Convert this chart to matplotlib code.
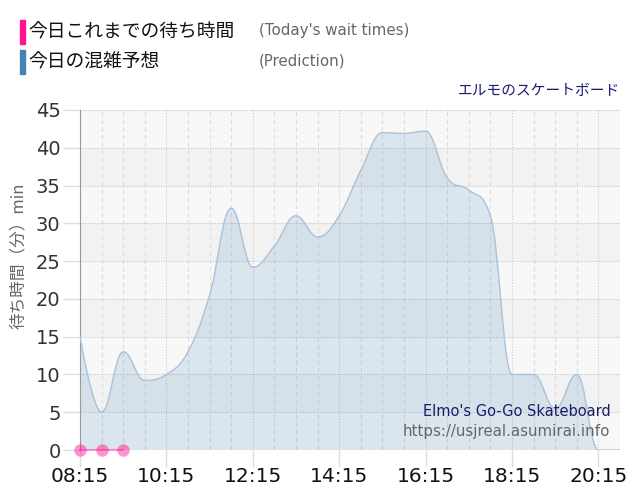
import numpy as np
import matplotlib
matplotlib.use("Agg")
import matplotlib.pyplot as plt
from matplotlib.path import Path
from matplotlib.patches import PathPatch, Rectangle

plt.rcParams['font.family'] = ['DejaVu Sans', 'Noto Sans CJK JP']

# 予想データ (30分ごと, 08:15 - 20:45)
pred_times = ["08:15", "08:45", "09:15", "09:45", "10:15", "10:45", "11:15", "11:45",
              "12:15", "12:45", "13:15", "13:45", "14:15", "14:45", "15:15", "15:45",
              "16:15", "16:45", "17:15", "17:45", "18:15", "18:45", "19:15", "19:45",
              "20:15", "20:45"]
pred_waits = [15, 5, 13, 9.2, 10, 13, 20.5, 32, 24.2, 27, 31, 28.2, 31, 37, 42, 41.9,
              42.2, 36, 34.4, 31, 10, 10, 5.5, 10, 0, 0]

# 今日これまでの待ち時間
today_times = ["08:15", "08:45", "09:15"]
today_waits = [0, 0, 0]

tick_labels = ["08:15", "10:15", "12:15", "14:15", "16:15", "18:15", "20:15"]

BLUE = '#4682b4'
PINK = '#ff1493'
NAVY = '#1c1c6e'


def to_min(t):
    h, m = t.split(":")
    return int(h) * 60 + int(m)


def spline_path(xs, ys, smoothing=1.5):
    """Highcharts風のスプラインをベジェ曲線で作る."""
    n = len(xs)
    denom = smoothing + 1
    lc, rc = [None] * n, [None] * n
    for i in range(1, n - 1):
        px, py = xs[i - 1], ys[i - 1]
        x, y = xs[i], ys[i]
        nx, ny = xs[i + 1], ys[i + 1]
        lcx, lcy = (smoothing * x + px) / denom, (smoothing * y + py) / denom
        rcx, rcy = (smoothing * x + nx) / denom, (smoothing * y + ny) / denom
        corr = (rcy - lcy) * (rcx - x) / (rcx - lcx) + y - rcy
        lcy += corr
        rcy += corr
        if lcy > max(py, y):
            lcy = max(py, y); rcy = 2 * y - lcy
        elif lcy < min(py, y):
            lcy = min(py, y); rcy = 2 * y - lcy
        if rcy > max(ny, y):
            rcy = max(ny, y); lcy = 2 * y - rcy
        elif rcy < min(ny, y):
            rcy = min(ny, y); lcy = 2 * y - rcy
        lc[i], rc[i] = (lcx, lcy), (rcx, rcy)
    verts, codes = [(xs[0], ys[0])], [Path.MOVETO]
    for i in range(1, n):
        c1 = rc[i - 1] if rc[i - 1] else (xs[i - 1], ys[i - 1])
        c2 = lc[i] if lc[i] else (xs[i], ys[i])
        verts += [c1, c2, (xs[i], ys[i])]
        codes += [Path.CURVE4] * 3
    return verts, codes


px = [to_min(t) for t in pred_times]
tx = [to_min(t) for t in today_times]
xmin, xmax = px[0], px[-1]

fig = plt.figure(figsize=(6.4, 5), dpi=100)
ax = fig.add_axes([80 / 640, 50 / 500, 540 / 640, 340 / 500])
ax.set_xlim(xmin, xmax)
ax.set_ylim(0, 45)

# 背景の縞
for k, y0 in enumerate(range(0, 45, 5)):
    ax.axhspan(y0, y0 + 5, color='#f8f8f8' if k % 2 == 0 else '#f2f2f2', zorder=0, lw=0)

# グリッド
for m in range(xmin, xmax + 1, 30):
    if (m - xmin) % 120 == 0:
        ax.axvline(m, color='#cccccc', lw=0.8, ls=(0, (1, 1.5)), zorder=1)
    else:
        ax.axvline(m, color='#dddddd', lw=0.8, ls=(0, (4, 3)), zorder=1)
for y in range(5, 46, 5):
    ax.axhline(y, color='#c8c8c8', lw=0.8, ls=(0, (1, 1.2)), zorder=1, clip_on=False)

verts, codes = spline_path(px, pred_waits)
line_path = Path(verts, codes)
fill_path = Path(verts + [(xmax, 0), (xmin, 0), (xmin, pred_waits[0])],
                 codes + [Path.LINETO, Path.LINETO, Path.CLOSEPOLY])
ax.add_patch(PathPatch(fill_path, facecolor=BLUE, alpha=0.16, lw=0, zorder=2))
ax.add_patch(PathPatch(line_path, facecolor='none', edgecolor='#a9c2da', lw=1, zorder=3))

ax.plot(tx, today_waits, color=PINK, alpha=0.45, lw=1.5, marker='o', markersize=9,
        markeredgewidth=0, clip_on=False, zorder=5)

# 軸
for s in ['top', 'right', 'bottom']:
    ax.spines[s].set_visible(False)
ax.spines['left'].set_color('#999999')
ax.spines['left'].set_linewidth(0.8)
ax.set_yticks(range(0, 46, 5))
ax.set_xticks([to_min(t) for t in tick_labels])
ax.set_xticklabels(tick_labels, fontsize=14.5, color='#111111')
ax.tick_params(axis='y', labelsize=14, labelcolor='#333333', color='#dddddd',
               length=12, width=1, pad=2)
ax.tick_params(axis='x', color='#dddddd', length=12, width=1, pad=0)

jp = ['Noto Sans CJK JP', 'DejaVu Sans']
fig.text(18 / 640, 1 - 256 / 500, '待ち時間（分）min', fontsize=12, color='#666666',
         family=jp, rotation=90, ha='center', va='center')

ax.text(0.982, 0.112, "Elmo's Go-Go Skateboard", transform=ax.transAxes, ha='right',
        va='center', fontsize=10.5, color=NAVY, zorder=6)
ax.text(0.982, 0.055, "https://usjreal.asumirai.info", transform=ax.transAxes, ha='right',
        va='center', fontsize=10.8, color='#666666', zorder=6)

# 凡例とタイトル
fig.add_artist(Rectangle((20 / 640, 1 - 44 / 500), 5 / 640, 24 / 500,
                         transform=fig.transFigure, color=PINK))
fig.add_artist(Rectangle((20 / 640, 1 - 74 / 500), 5 / 640, 24 / 500,
                         transform=fig.transFigure, color=BLUE))
fig.text(28 / 640, 1 - 32 / 500, '今日これまでの待ち時間', fontsize=13.5, va='center',
         family=jp, color='#111111')
fig.text(28 / 640, 1 - 62 / 500, '今日の混雑予想', fontsize=13.5, va='center',
         family=jp, color='#111111')
fig.text(259 / 640, 1 - 31 / 500, "(Today's wait times)", fontsize=10.8, va='center',
         color='#666666')
fig.text(259 / 640, 1 - 61 / 500, "(Prediction)", fontsize=10.8, va='center',
         color='#666666')
fig.text(620 / 640, 1 - 91 / 500, 'エルモのスケートボード', fontsize=10.6, va='center',
         ha='right', family=jp, color=NAVY)

fig.savefig('out.png', dpi=100, facecolor='white')
